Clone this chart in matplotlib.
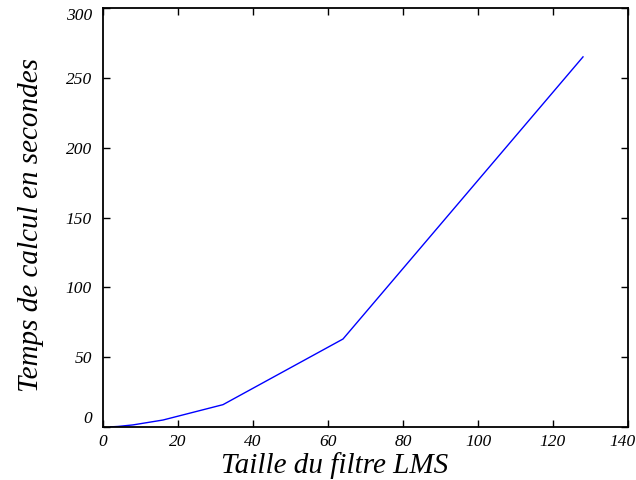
import matplotlib
matplotlib.use("Agg")
import matplotlib.pyplot as plt
import matplotlib.transforms as mtransforms

sizes = [2, 4, 8, 16, 32, 64, 128]
times = [0.1, 0.4, 1.5, 5.0, 16.0, 63.0, 265.0]
xticks = [0, 20, 40, 60, 80, 100, 120, 140]
yticks = [0, 50, 100, 150, 200, 250, 300]

plt.rcParams['font.family'] = ['Liberation Serif']
plt.rcParams['font.style'] = 'italic'

W, H = 636, 480
fig = plt.figure(figsize=(W / 100, H / 100), dpi=100)
ax = fig.add_axes([103 / W, (H - 427) / H, (628 - 103) / W, (427 - 8) / H])
ax.plot(sizes, times, color='blue', linewidth=1.0)
ax.set_xlim(0, 140)
ax.set_ylim(0, 300)
ax.set_xticks(xticks)
ax.set_yticks(yticks)
ax.tick_params(direction='in', top=True, right=True, labelsize=12.5, length=5, width=1)
ax.tick_params(axis='x', pad=5)
ax.tick_params(axis='y', pad=8)
for s in ax.spines.values():
    s.set_linewidth(1.3)

fig.canvas.draw()
ylabels = ax.get_yticklabels()
ylabels[0].set_verticalalignment('bottom')
ylabels[-1].set_verticalalignment('top')
xlabels = ax.get_xticklabels()
xlabels[-1].set_transform(xlabels[-1].get_transform() +
                          mtransforms.ScaledTranslation(-5 / 100, 0, fig.dpi_scale_trans))

ax.set_xlabel('Taille du filtre LMS', fontsize=21)
ax.set_ylabel('Temps de calcul en secondes', fontsize=21)
ax.xaxis.set_label_coords((335 - 103) / (628 - 103), -(466 - 427) / (427 - 8), transform=ax.transAxes)
ax.xaxis.label.set_va('center')
ax.yaxis.set_label_coords(-(103 - 31) / (628 - 103), (427 - 225) / (427 - 8), transform=ax.transAxes)
ax.yaxis.label.set_va('center')
fig.savefig('out.png', dpi=100)
